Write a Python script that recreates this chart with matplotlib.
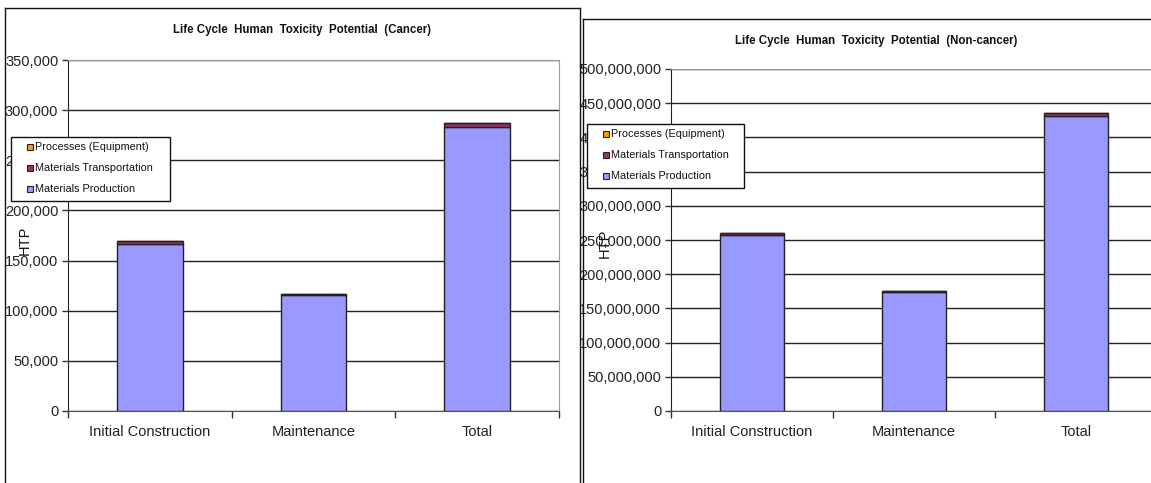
import numpy as np
import matplotlib.pyplot as plt
from matplotlib.lines import Line2D
from matplotlib.patches import Rectangle
from matplotlib.ticker import FuncFormatter

plt.rcParams['font.family'] = ['Liberation Sans', 'DejaVu Sans']

phases = ['Initial Construction', 'Maintenance', 'Total']
series = ['Materials Production', 'Materials Transportation', 'Processes (Equipment)']
colors = ['#9999FF', '#993366', '#FF9900']

# cancer HTP by life-cycle phase
cancer_production = [167000, 116000, 283500]
cancer_transport = [2500, 700, 3200]
cancer_equipment = [150, 80, 230]

# non-cancer HTP by life-cycle phase
noncancer_production = [257000000, 174500000, 431500000]
noncancer_transport = [3000000, 1200000, 4200000]
noncancer_equipment = [300000, 150000, 450000]

W, H = 1151, 483
fig = plt.figure(figsize=(W / 100, H / 100), dpi=100)


def px(x0, y0, x1, y1):
    # pixel box (top-left origin) -> figure fraction rect
    return [x0 / W, 1 - y1 / H, (x1 - x0) / W, (y1 - y0) / H]


def draw_panel(rect, stacks, ymax, title, title_xy, ylabel_xy, legend_box):
    ax = fig.add_axes(rect)
    x = np.arange(len(phases))
    bottom = np.zeros(len(phases))
    for vals, name, col in zip(stacks, series, colors):
        ax.bar(x, vals, 0.4, bottom=bottom, color=col, edgecolor='#222222',
               linewidth=1.0, label=name, zorder=3)
        bottom = bottom + np.array(vals)

    ax.set_xlim(-0.5, 2.5)
    ax.set_ylim(0, ymax)
    ax.set_yticks(np.linspace(0, ymax, 8 if ymax < 1e6 else 11))
    ax.yaxis.set_major_formatter(FuncFormatter(lambda v, p: f'{v:,.0f}'))
    ax.tick_params(axis='y', direction='out', length=4, width=1, color='#333333',
                   labelsize=10.5, labelcolor='#222222', pad=3)
    ax.set_xticks([-0.5, 0.5, 1.5, 2.5])
    ax.set_xticklabels([])
    ax.tick_params(axis='x', which='major', direction='out', length=5, width=1,
                   color='#333333')
    ax.set_xticks(x, minor=True)
    ax.set_xticklabels(phases, minor=True)
    ax.tick_params(axis='x', which='minor', length=0, pad=10, labelsize=10.5,
                   labelcolor='#222222')

    ax.grid(axis='y', color='#222222', linewidth=1, zorder=0)
    ax.set_axisbelow(True)
    ax.spines['left'].set_color('#222222')
    ax.spines['bottom'].set_color('#555555')
    ax.spines['right'].set_color('#999999')
    ax.spines['top'].set_color('#999999')

    fig.text(title_xy[0] / W, 1 - title_xy[1] / H, title, ha='center', va='center',
             fontsize=8.3, fontweight='bold', color='#111111')
    fig.text(ylabel_xy[0] / W, 1 - ylabel_xy[1] / H, 'HTP', rotation=90,
             ha='center', va='center', fontsize=10.5, color='#111111')

    # legend box in the upper left, partly over the tick labels
    lx0, ly0, lx1, ly1 = legend_box
    fig.add_artist(Rectangle((lx0 / W, 1 - ly1 / H), (lx1 - lx0) / W, (ly1 - ly0) / H,
                             transform=fig.transFigure, facecolor='white',
                             edgecolor='#111111', linewidth=1, zorder=10))
    for i, k in enumerate([2, 1, 0]):
        yy = ly0 + 10 + i * 21
        fig.add_artist(Rectangle(((lx0 + 16) / W, 1 - (yy + 3) / H), 6 / W, 6 / H,
                                 transform=fig.transFigure, facecolor=colors[k],
                                 edgecolor='#222222', linewidth=0.8, zorder=11))
        fig.text((lx0 + 24) / W, 1 - yy / H, series[k], ha='left', va='center',
                 fontsize=7.8, color='#111111', zorder=12)
    return ax


draw_panel(px(68, 60, 559, 411),
           [cancer_production, cancer_transport, cancer_equipment], 350000,
           'Life Cycle  Human  Toxicity  Potential  (Cancer)', (302, 30), (25, 240),
           (11, 137, 170, 201))

draw_panel(px(671, 69, 1157, 411),
           [noncancer_production, noncancer_transport, noncancer_equipment], 500000000,
           'Life Cycle  Human  Toxicity  Potential  (Non-cancer)', (876, 41), (605, 243),
           (587, 124, 744, 188))

# outer chart frames
def fline(xs, ys):
    fig.add_artist(Line2D([v / W for v in xs], [1 - v / H for v in ys],
                          transform=fig.transFigure, color='#111111', linewidth=1))

fline([5, 5], [8, 490])
fline([5, 580], [8, 8])
fline([580, 580], [8, 490])
fline([583, 583], [19, 490])
fline([583, 1160], [19, 19])

fig.savefig('out.png', dpi=100)
